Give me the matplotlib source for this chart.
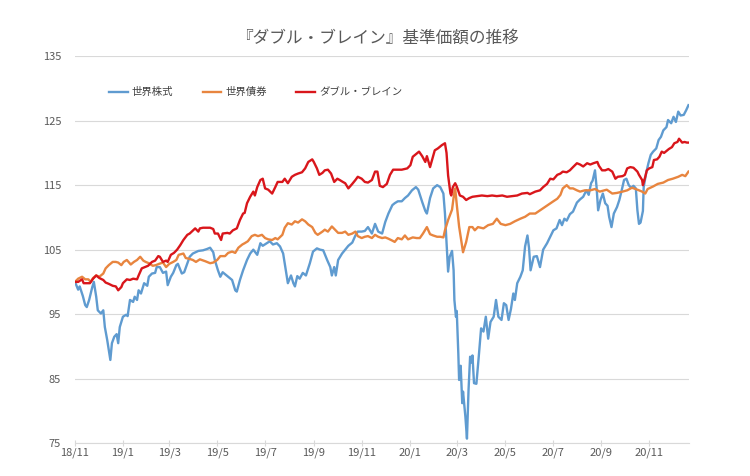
import numpy as np
import pandas as pd
import matplotlib
matplotlib.use('Agg')
import matplotlib.pyplot as plt
import matplotlib.dates as mdates
from matplotlib.ticker import FuncFormatter

plt.rcParams['font.family'] = ['Noto Sans CJK JP', 'DejaVu Sans']

start = pd.Timestamp('2018-11-01')

# 世界株式 (days since start, value)
stock_days = [0, 4, 6, 10, 13, 15, 18, 22, 24, 27, 29, 33, 36, 38, 41, 45, 47, 50, 53, 55,
              57, 61, 65, 67, 70, 74, 76, 79, 81, 84, 88, 92, 94, 98, 102, 104, 108, 112,
              116, 118, 122, 125, 129, 131, 136, 139, 143, 146, 150, 157, 163, 168, 172,
              176, 178, 182, 185, 188, 194, 200, 204, 206, 210, 214, 219, 223, 227, 232,
              236, 239, 244, 248, 252, 257, 261, 265, 269, 271, 275, 278, 280, 283, 286,
              290, 294, 299, 303, 308, 312, 316, 321, 325, 327, 330, 332, 335, 340, 344,
              348, 353, 357, 360, 365, 369, 373, 378, 382, 386, 391, 395, 399, 404, 407,
              411, 416, 420, 424, 429, 434, 437, 442, 446, 448, 452, 456, 461, 465, 469,
              471, 473, 475, 477, 480, 482, 483, 485, 486, 488, 489, 491, 493, 494, 497,
              499, 501, 503, 505, 506, 508, 511, 514, 517, 520, 523, 526, 529, 533, 536,
              539, 543, 546, 549, 552, 555, 558, 560, 563, 567, 570, 573, 576, 578, 580,
              584, 588, 592, 596, 601, 605, 609, 613, 617, 620, 623, 626, 630, 634, 639,
              643, 647, 651, 654, 657, 659, 662, 664, 666, 669, 672, 675, 678, 680, 683,
              686, 690, 693, 696, 699, 702, 705, 708, 711, 714, 716, 718, 720, 723, 724,
              727, 730, 733, 736, 740, 743, 746, 749, 753, 755, 759, 762, 765, 768, 771,
              775, 778, 781]
stock = [100.0, 98.8, 99.3, 97.8, 96.4, 96.1, 97.2, 99.2, 100.0, 97.7, 95.6, 95.1, 95.6,
         93.0, 91.0, 87.9, 90.5, 91.5, 91.9, 90.5, 93.0, 94.6, 94.9, 94.7, 97.2, 96.9, 97.7,
         97.2, 98.7, 98.2, 99.8, 99.4, 100.8, 101.3, 101.4, 102.3, 102.3, 101.4, 101.6, 99.5,
         100.8, 101.4, 102.6, 102.8, 101.3, 101.5, 102.9, 103.9, 104.4, 104.8, 104.9, 105.1,
         105.3, 104.6, 103.4, 101.8, 100.8, 101.5, 100.9, 100.3, 98.7, 98.5, 100.3, 101.8,
         103.4, 104.4, 105.0, 104.2, 106.0, 105.6, 106.0, 106.3, 105.8, 106.0, 105.5, 104.4,
         101.3, 99.8, 101.0, 99.8, 99.3, 100.9, 100.5, 101.4, 101.0, 102.9, 104.7, 105.2,
         105.0, 104.9, 103.4, 102.3, 101.0, 102.3, 101.0, 103.4, 104.4, 105.0, 105.6, 106.1,
         107.2, 107.8, 107.8, 107.9, 108.5, 107.5, 109.0, 107.8, 107.5, 109.3, 110.6, 111.9,
         112.2, 112.5, 112.5, 113.0, 113.4, 114.2, 114.7, 114.3, 112.4, 111.0, 110.6, 113.0,
         114.5, 115.0, 114.7, 113.7, 110.6, 106.0, 101.6, 103.9, 104.8, 101.8, 97.2, 94.6,
         95.5, 88.9, 84.8, 87.0, 81.2, 83.0, 79.1, 75.7, 83.2, 88.4, 87.5, 88.6, 84.3, 84.2,
         88.4, 92.8, 92.3, 94.6, 91.2, 93.8, 94.6, 97.2, 94.6, 94.1, 96.7, 96.4, 94.1, 95.8,
         98.2, 97.2, 99.8, 100.8, 101.8, 105.5, 107.2, 105.3, 101.8, 103.9, 104.0, 102.3,
         105.0, 106.0, 107.0, 108.0, 108.3, 109.6, 108.8, 109.8, 109.5, 110.5, 110.9, 112.3,
         112.8, 113.2, 114.2, 113.5, 115.3, 115.7, 117.3, 114.7, 111.1, 112.7, 113.7, 112.2,
         111.8, 110.1, 108.5, 110.6, 111.6, 112.7, 114.2, 115.8, 116.0, 115.0, 114.6, 114.9,
         114.5, 111.1, 109.0, 109.2, 111.0, 114.7, 116.8, 118.4, 119.7, 120.2, 120.7, 122.0,
         122.5, 123.5, 124.0, 125.1, 124.6, 125.6, 124.8, 126.4, 125.8, 125.9, 126.6, 127.4]

# 世界債券
bond_days = [0, 4, 9, 13, 17, 20, 23, 27, 31, 36, 39, 43, 48, 52, 55, 59, 62, 66, 71, 75,
             79, 83, 87, 90, 94, 99, 103, 107, 112, 116, 120, 125, 129, 132, 138, 141, 145,
             150, 154, 159, 166, 172, 176, 181, 185, 191, 195, 200, 204, 208, 213, 216, 220,
             225, 229, 233, 238, 242, 246, 251, 255, 258, 264, 267, 271, 276, 280, 284, 289,
             293, 297, 302, 306, 309, 315, 318, 322, 327, 331, 335, 340, 344, 348, 353, 357,
             360, 365, 369, 373, 378, 382, 386, 391, 395, 399, 404, 407, 411, 416, 420, 424,
             430, 435, 439, 443, 448, 452, 456, 461, 465, 469, 471, 475, 480, 483, 484, 486,
             489, 492, 494, 498, 502, 506, 509, 513, 520, 526, 532, 537, 542, 548, 554, 560,
             567, 573, 579, 586, 592, 598, 605, 609, 614, 618, 621, 626, 630, 634, 639, 643,
             649, 656, 662, 668, 677, 684, 690, 697, 703, 709, 716, 722, 726, 729, 736, 742,
             749, 755, 761, 768, 773, 777, 781]
bond = [100.0, 100.5, 100.8, 100.4, 100.4, 100.0, 100.6, 101.0, 100.8, 101.3, 102.1, 102.6,
        103.1, 103.1, 103.0, 102.6, 103.1, 103.4, 102.7, 103.1, 103.4, 103.9, 103.3, 103.1,
        102.9, 102.5, 102.6, 102.8, 103.0, 102.3, 102.8, 103.1, 103.4, 104.2, 104.4, 103.7,
        103.6, 103.4, 103.1, 103.5, 103.2, 102.9, 103.0, 103.4, 104.0, 104.0, 104.5, 104.7,
        104.5, 105.3, 105.8, 106.0, 106.3, 107.1, 107.3, 107.1, 107.3, 106.8, 106.6, 106.5,
        106.8, 106.6, 107.3, 108.4, 109.1, 108.9, 109.4, 109.2, 109.7, 109.4, 108.9, 108.5,
        107.6, 107.3, 107.8, 108.1, 107.8, 108.6, 108.1, 107.6, 107.6, 107.8, 107.3, 107.5,
        107.8, 107.1, 106.8, 107.0, 107.1, 106.8, 107.3, 107.0, 106.8, 106.9, 106.7, 106.4,
        106.2, 106.8, 106.6, 107.2, 106.6, 106.9, 106.8, 106.8, 107.5, 108.5, 107.4, 107.2,
        107.0, 107.0, 106.9, 108.0, 109.6, 111.2, 114.0, 114.5, 112.0, 108.6, 106.2, 104.6,
        106.2, 108.5, 108.5, 108.0, 108.5, 108.3, 108.8, 109.0, 109.8, 109.0, 108.8, 109.0,
        109.4, 109.8, 110.1, 110.6, 110.6, 111.1, 111.6, 112.2, 112.5, 112.9, 113.5, 114.5,
        115.0, 114.5, 114.5, 114.2, 114.0, 114.2, 114.2, 114.4, 114.0, 114.3, 113.7, 113.8,
        114.0, 114.2, 114.6, 114.3, 114.0, 113.7, 114.4, 114.8, 115.2, 115.4, 115.8, 116.0,
        116.3, 116.6, 116.4, 117.1]

# ダブル・ブレイン
db_days = [0, 4, 9, 11, 15, 19, 23, 27, 31, 36, 39, 43, 48, 52, 55, 59, 61, 66, 70, 74,
           79, 81, 85, 89, 93, 98, 102, 106, 108, 112, 116, 118, 122, 126, 130, 134, 138,
           143, 146, 153, 157, 159, 163, 168, 172, 176, 178, 182, 186, 188, 194, 197, 201,
           206, 210, 214, 216, 219, 223, 227, 229, 232, 236, 239, 242, 246, 251, 255, 258,
           264, 267, 271, 276, 280, 284, 289, 293, 297, 302, 304, 308, 311, 315, 318, 322,
           326, 330, 334, 337, 341, 344, 348, 353, 357, 360, 365, 369, 373, 378, 382, 385,
           388, 392, 397, 401, 405, 410, 416, 423, 427, 430, 435, 438, 442, 446, 448, 452,
           456, 458, 462, 467, 471, 473, 475, 478, 479, 481, 484, 486, 490, 494, 498, 502,
           506, 512, 518, 525, 531, 537, 544, 550, 556, 563, 569, 576, 579, 586, 592, 596,
           601, 605, 609, 614, 618, 621, 626, 630, 634, 639, 643, 647, 652, 656, 660, 665,
           667, 671, 675, 679, 684, 688, 691, 697, 700, 703, 707, 711, 716, 718, 722, 723,
           726, 728, 731, 735, 737, 741, 744, 747, 750, 754, 756, 760, 763, 767, 769, 773,
           776, 779, 782]
double_brain = [100.0, 100.0, 100.4, 99.8, 99.8, 99.8, 100.5, 101.0, 100.6, 100.3, 99.9,
                99.7, 99.4, 99.3, 98.7, 99.2, 99.8, 100.4, 100.3, 100.5, 100.4, 101.0, 102.1,
                102.3, 102.5, 103.1, 103.3, 104.0, 103.9, 103.1, 103.3, 103.1, 104.2, 104.5,
                105.0, 105.7, 106.5, 107.3, 107.5, 108.3, 107.8, 108.3, 108.4, 108.4, 108.4,
                108.2, 107.5, 107.5, 106.5, 107.5, 107.6, 107.5, 108.0, 108.3, 109.6, 110.6,
                110.7, 112.2, 113.2, 114.0, 113.4, 114.7, 115.8, 116.0, 114.5, 114.3, 113.7,
                114.7, 115.5, 115.5, 116.0, 115.3, 116.3, 116.6, 116.8, 117.0, 117.6, 118.6,
                119.0, 118.6, 117.6, 116.6, 116.9, 117.3, 117.4, 116.8, 115.5, 116.0, 115.8,
                115.5, 115.3, 114.5, 115.2, 115.8, 116.3, 116.0, 115.5, 115.4, 115.8, 117.1,
                117.1, 114.9, 114.7, 115.2, 116.6, 117.4, 117.4, 117.4, 117.6, 118.1, 119.4,
                119.9, 120.2, 119.5, 118.6, 119.5, 117.8, 119.5, 120.4, 120.7, 121.2, 121.5,
                120.0, 116.5, 113.7, 113.4, 114.7, 115.3, 114.8, 113.4, 113.2, 112.7, 113.0,
                113.2, 113.3, 113.4, 113.3, 113.4, 113.3, 113.4, 113.2, 113.3, 113.4, 113.7,
                113.8, 113.6, 114.0, 114.2, 114.7, 115.2, 116.0, 115.9, 116.6, 116.8, 117.1,
                117.0, 117.3, 117.8, 118.4, 118.2, 117.9, 118.4, 118.2, 118.4, 118.6, 118.0,
                117.3, 117.3, 117.5, 117.1, 116.0, 116.3, 116.4, 116.6, 117.6, 117.8, 117.7,
                117.1, 116.6, 115.8, 115.0, 116.3, 117.3, 117.6, 117.8, 118.9, 119.0, 119.4,
                120.2, 120.0, 120.4, 120.6, 120.9, 121.5, 121.7, 122.2, 121.6, 121.7, 121.6,
                121.6]

series = [('世界株式', stock_days, stock, '#5F9BD0'),
          ('世界債券', bond_days, bond, '#E8853F'),
          ('ダブル・ブレイン', db_days, double_brain, '#D9161B')]

fig = plt.figure(figsize=(7.5, 4.76), dpi=100)
ax = fig.add_axes([0.1, 0.069, 0.819, 0.813])

for name, days, vals, col in series:
    dates = start + pd.to_timedelta(days, unit='D')
    ax.plot(dates, vals, color=col, linewidth=1.7, label=name, solid_joinstyle='round')

ax.set_ylim(75, 135)
ax.set_yticks(np.arange(75, 136, 10))
ax.set_xlim(start, start + pd.Timedelta(days=782))

ax.xaxis.set_major_locator(mdates.MonthLocator(bymonth=[1, 3, 5, 7, 9, 11]))
ax.xaxis.set_major_formatter(FuncFormatter(
    lambda v, pos: '%d/%d' % (mdates.num2date(v).year % 100, mdates.num2date(v).month)))

ax.grid(axis='y', color='#d9d9d9', linewidth=0.8)
ax.set_axisbelow(True)
for s in ['top', 'right', 'left']:
    ax.spines[s].set_visible(False)
ax.spines['bottom'].set_color('#d9d9d9')
ax.tick_params(axis='y', length=0, labelsize=8, labelcolor='#595959', pad=10)
ax.tick_params(axis='x', length=4, direction='inout', color='#d9d9d9',
               labelsize=8, labelcolor='#595959', pad=1)

fig.text(0.503, 0.92, '『ダブル・ブレイン』基準価額の推移', ha='center', va='center',
         fontsize=12, color='#595959')

ax.legend(loc='center left', bbox_to_anchor=(0.04, 0.907), ncol=3, frameon=False,
          fontsize=7.5, handlelength=1.8, handletextpad=0.4, columnspacing=2.8,
          labelcolor='#404040')

fig.savefig('out.png', dpi=100)
